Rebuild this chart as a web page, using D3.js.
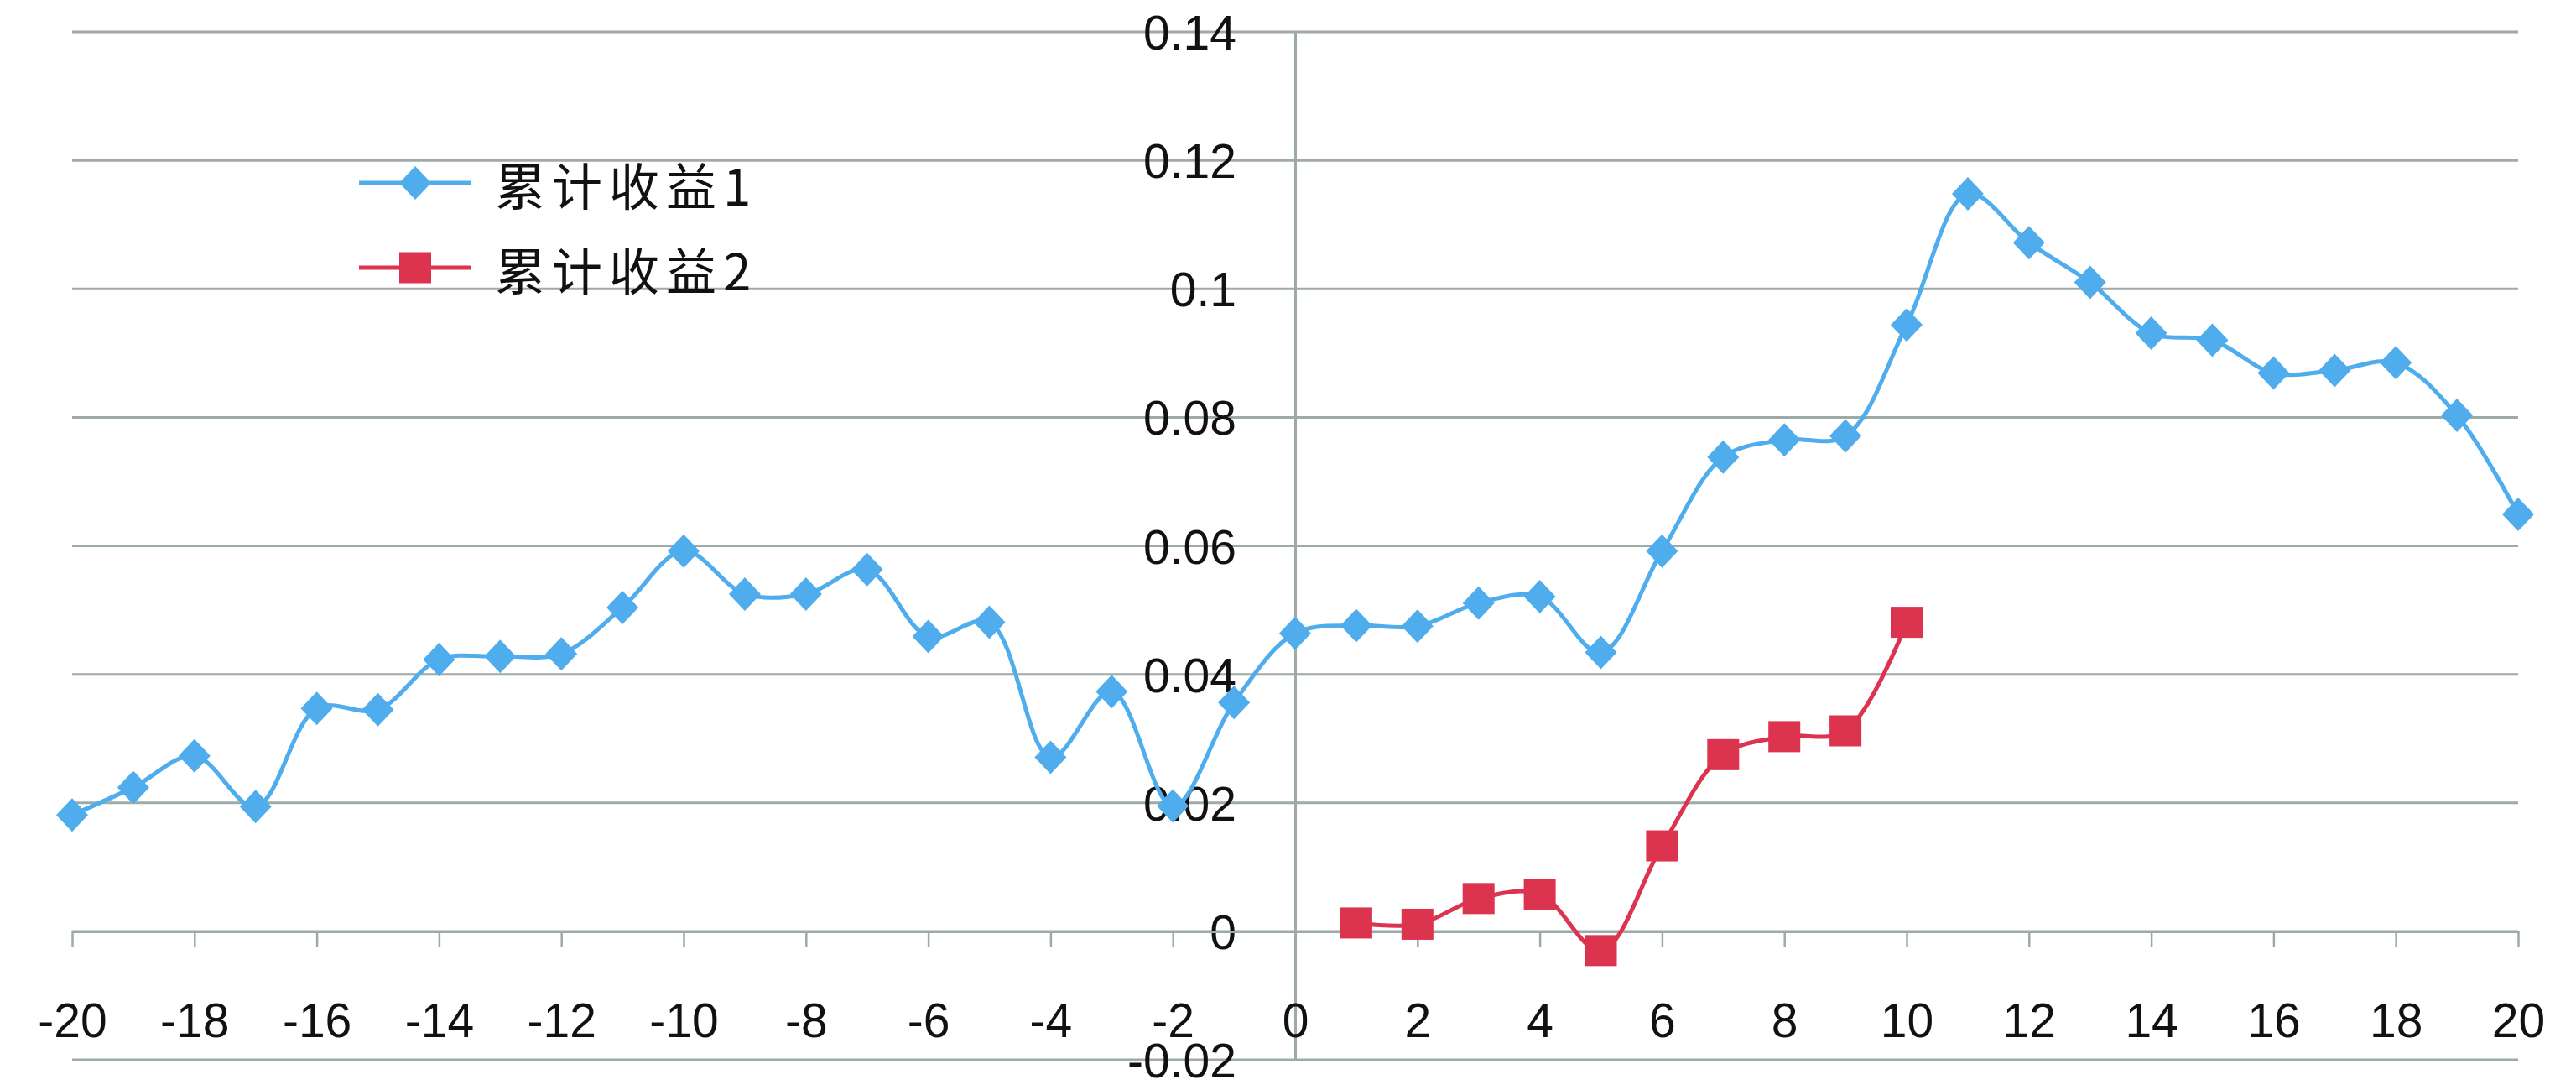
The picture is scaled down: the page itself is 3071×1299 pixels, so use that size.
<!DOCTYPE html>
<html>
<head>
<meta charset="utf-8">
<script src="https://cdn.jsdelivr.net/npm/d3@7"></script>
<style>
  html, body { margin: 0; padding: 0; background: #ffffff; }
  svg { display: block; }
</style>
</head>
<body>
<svg id="chart" width="3071" height="1299"></svg>
<script>
// ---- data ----
const xValues1 = d3.range(-20, 21);
const series1 = [0.0181, 0.0224, 0.0273, 0.0194, 0.0347, 0.0345, 0.0423, 0.0428, 0.0432, 0.0504, 0.0592,
                 0.0525, 0.0525, 0.0563, 0.0459, 0.0481, 0.0271, 0.0373, 0.0195, 0.0356, 0.0464,
                 0.0476, 0.0475, 0.0511, 0.0521, 0.0434, 0.0592, 0.0738, 0.0765, 0.0771, 0.0944,
                 0.1148, 0.1072, 0.1010, 0.0931, 0.0920, 0.0869, 0.0873, 0.0885, 0.0803, 0.0649];
const xValues2 = d3.range(1, 11);
const series2 = [0.0013, 0.0011, 0.0051, 0.0058, -0.0030, 0.0133, 0.0275, 0.0303, 0.0312, 0.0481];
const seriesNames = ["累计收益1", "累计收益2"];
const xTicks = d3.range(-20, 21, 2);
const xTickLabels = xTicks.map(d => String(d));
const yTicks = [-0.02, 0, 0.02, 0.04, 0.06, 0.08, 0.1, 0.12, 0.14];
const yTickLabels = ["-0.02", "0", "0.02", "0.04", "0.06", "0.08", "0.1", "0.12", "0.14"];

// ---- layout ----
const svg = d3.select("#chart");
const x = d3.scaleLinear().domain([-20, 20]).range([86, 3002]);
const y = d3.scaleLinear().domain([-0.02, 0.14]).range([1263, 38]);
const gridColor = "#9eaaa8";
const blue = "#4fadee";
const red = "#dc334f";
const font = "'Liberation Sans', Arial, sans-serif";

// gridlines
svg.append("g").selectAll("line").data(yTicks).join("line")
  .attr("x1", x(-20)).attr("x2", x(20))
  .attr("y1", d => y(d)).attr("y2", d => y(d))
  .attr("stroke", gridColor).attr("stroke-width", 3);

// vertical axis (at x = 0)
const yAxis = d3.axisLeft(y).tickValues(yTicks)
  .tickFormat((d, i) => yTickLabels[i]).tickSize(0).tickPadding(70);
const gy = svg.append("g").attr("transform", `translate(${x(0)},0)`).call(yAxis);
gy.select(".domain").attr("stroke", gridColor).attr("stroke-width", 3);
gy.selectAll("text").attr("font-family", font).attr("font-size", 57)
  .attr("fill", "#111").attr("dy", "0.36em");

// horizontal axis (at y = 0)
const xAxis = d3.axisBottom(x).tickValues(xTicks)
  .tickFormat((d, i) => xTickLabels[i])
  .tickSize(19).tickSizeOuter(0).tickPadding(0);
const gx = svg.append("g").attr("transform", `translate(0,${y(0)})`).call(xAxis);
gx.select(".domain").attr("stroke", gridColor).attr("stroke-width", 3);
gx.selectAll(".tick line").attr("stroke", gridColor).attr("stroke-width", 2.5);
gx.selectAll("text").attr("font-family", font).attr("font-size", 57)
  .attr("fill", "#111").attr("y", 126).attr("dy", 0);

// lines
const line = d3.line().x(d => x(d[0])).y(d => y(d[1])).curve(d3.curveCatmullRom.alpha(0.5));
const pts1 = xValues1.map((v, i) => [v, series1[i]]);
const pts2 = xValues2.map((v, i) => [v, series2[i]]);

svg.append("path").datum(pts1).attr("d", line)
  .attr("fill", "none").attr("stroke", blue).attr("stroke-width", 5);
svg.append("path").datum(pts2).attr("d", line)
  .attr("fill", "none").attr("stroke", red).attr("stroke-width", 5);

// markers
const dw = 19, dh = 20;
const diamond = `M0,${-dh} L${dw},0 L0,${dh} L${-dw},0 Z`;
svg.append("g").selectAll("path").data(pts1).join("path")
  .attr("d", diamond)
  .attr("transform", d => `translate(${x(d[0])},${y(d[1])})`)
  .attr("fill", blue);
const sw = 38, sh = 37;
svg.append("g").selectAll("rect").data(pts2).join("rect")
  .attr("x", d => x(d[0]) - sw / 2).attr("y", d => y(d[1]) - sh / 2)
  .attr("width", sw).attr("height", sh).attr("fill", red);

// legend
const legend = svg.append("g");
const legendY = [218, 319];
[blue, red].forEach((c, i) => {
  legend.append("line").attr("x1", 428).attr("x2", 562)
    .attr("y1", legendY[i]).attr("y2", legendY[i])
    .attr("stroke", c).attr("stroke-width", 5);
  if (i === 0) {
    legend.append("path").attr("d", diamond)
      .attr("transform", `translate(495,${legendY[i]})`).attr("fill", c);
  } else {
    legend.append("rect").attr("x", 495 - sw / 2).attr("y", legendY[i] - sh / 2)
      .attr("width", sw).attr("height", sh).attr("fill", c);
  }
  legend.append("text").attr("x", 590).attr("y", legendY[i])
    .attr("dominant-baseline", "central")
    .attr("font-family", "'Noto Sans CJK SC', sans-serif")
    .attr("font-size", 60).attr("letter-spacing", 8).attr("fill", "#111")
    .text(seriesNames[i]);
});
</script>
</body>
</html>
